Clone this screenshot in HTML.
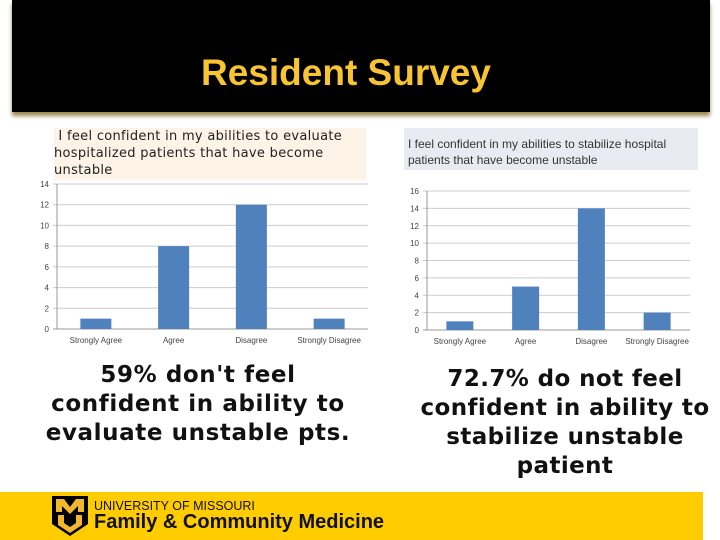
<!DOCTYPE html>
<html><head><meta charset="utf-8"><style>
body{margin:0;width:720px;height:540px;background:#fff;position:relative;overflow:hidden;font-family:"Liberation Sans",sans-serif}
.abs{position:absolute}
</style></head><body>
<div class="abs" style="left:12px;top:0;width:698px;height:112px;background:#000;box-shadow:0 4px 4px #998a55"></div>
<div class="abs" style="left:12px;width:668px;top:52px;text-align:center;color:#f8c431;font-weight:bold;font-size:37px">Resident Survey</div>
<div class="abs" style="left:54px;top:128px;width:312px;height:52px;background:#fdf3e6;font-family:'DejaVu Sans',sans-serif;font-size:13px;line-height:17px;color:#222;white-space:nowrap;letter-spacing:0.3px">&nbsp;I feel confident in my abilities to evaluate<br>hospitalized patients that have become<br>unstable</div>
<div class="abs" style="left:404px;top:128px;width:294px;height:42px;background:#e8ecf2;font-size:12px;line-height:16px;color:#333;padding:8px 0 0 4px;box-sizing:border-box">I feel confident in my abilities to stabilize hospital patients that have become unstable</div>
<svg class="abs" style="left:0;top:0" width="720" height="540">
<g id="c1"></g>
<g id="c2"></g>
</svg>
<div class="abs" style="left:0;width:396px;top:361px;text-align:center;font-family:'DejaVu Sans',sans-serif;font-weight:bold;font-size:23px;letter-spacing:0.6px;line-height:29px;color:#111;white-space:nowrap">59% don't feel<br>confident in ability to<br>evaluate unstable pts.</div>
<div class="abs" style="left:385px;width:360px;top:365px;text-align:center;font-family:'DejaVu Sans',sans-serif;font-weight:bold;font-size:23px;letter-spacing:0.4px;line-height:29px;color:#111;white-space:nowrap">72.7% do not feel<br>confident in ability to<br>stabilize unstable<br>patient</div>
<div class="abs" style="left:0;top:492px;width:703px;height:48px;background:#ffcc00"></div>
<svg class="abs" style="left:50px;top:494px" width="40" height="44">
<path d="M2 2H38V30L20 42L2 30Z" fill="#000"/>
<path d="M6 5H14L20 13L26 5H34V18H28V12L20 20L12 12V18H6Z" fill="#f1b82d"/>
<path d="M8 21H14V29L20 33L26 29V21H32V31L20 39L8 31Z" fill="#f1b82d"/>
</svg>
<div class="abs" style="left:94px;top:499px;font-size:12.5px;color:#111">UNIVERSITY OF MISSOURI</div>
<div class="abs" style="left:94px;top:511px;font-size:20px;font-weight:bold;color:#111">Family &amp; Community Medicine</div>
<script>
const categories=["Strongly Agree","Agree","Disagree","Strongly Disagree"];
const evaluateValues=[1,8,12,1];
const stabilizeValues=[1,5,14,2];
const evaluateTicks=[0,2,4,6,8,10,12,14];
const stabilizeTicks=[0,2,4,6,8,10,12,14,16];
const NS="http://www.w3.org/2000/svg";
function mk(t,a,p){const e=document.createElementNS(NS,t);for(const k in a)e.setAttribute(k,a[k]);p.appendChild(e);return e;}
function draw(g,vals,ticks,x0,x1,y0,y1,bw,fs){
 const max=ticks[ticks.length-1];
 const y=v=>y0-(v/max)*(y0-y1);
 const cw=(x1-x0)/categories.length;
 ticks.forEach(t=>{
  const l=mk('line',{x1:x0-4,x2:x1,y1:y(t),y2:y(t),stroke:t===0?'#999':'#ccc','stroke-width':1},g);
  
  
  const tx=mk('text',{x:x0-8,y:y(t)+3,'text-anchor':'end','font-size':8,fill:'#444','font-family':'Liberation Sans'},g);
  tx.textContent=t;
  
  
 });
 mk('line',{x1:x0,x2:x0,y1:y1,y2:y0,stroke:'#999'},g);
 categories.forEach((c,i)=>{
  const cx=x0+cw*(i+0.5);
  const r=mk('rect',{x:cx-bw/2,y:y(vals[i]),width:bw,height:y0-y(vals[i]),fill:'#4f81bd'},g);
  
  
  const tx=mk('text',{x:cx,y:y0+14,'text-anchor':'middle','font-size':fs,fill:'#444','font-family':'Liberation Sans'},g);
  tx.textContent=c;
  
  
 });
}
draw(document.getElementById('c1'),evaluateValues,evaluateTicks,57,368,329,184,31,8);
draw(document.getElementById('c2'),stabilizeValues,stabilizeTicks,427,690,330,191,27,8);
</script>
</body></html>
